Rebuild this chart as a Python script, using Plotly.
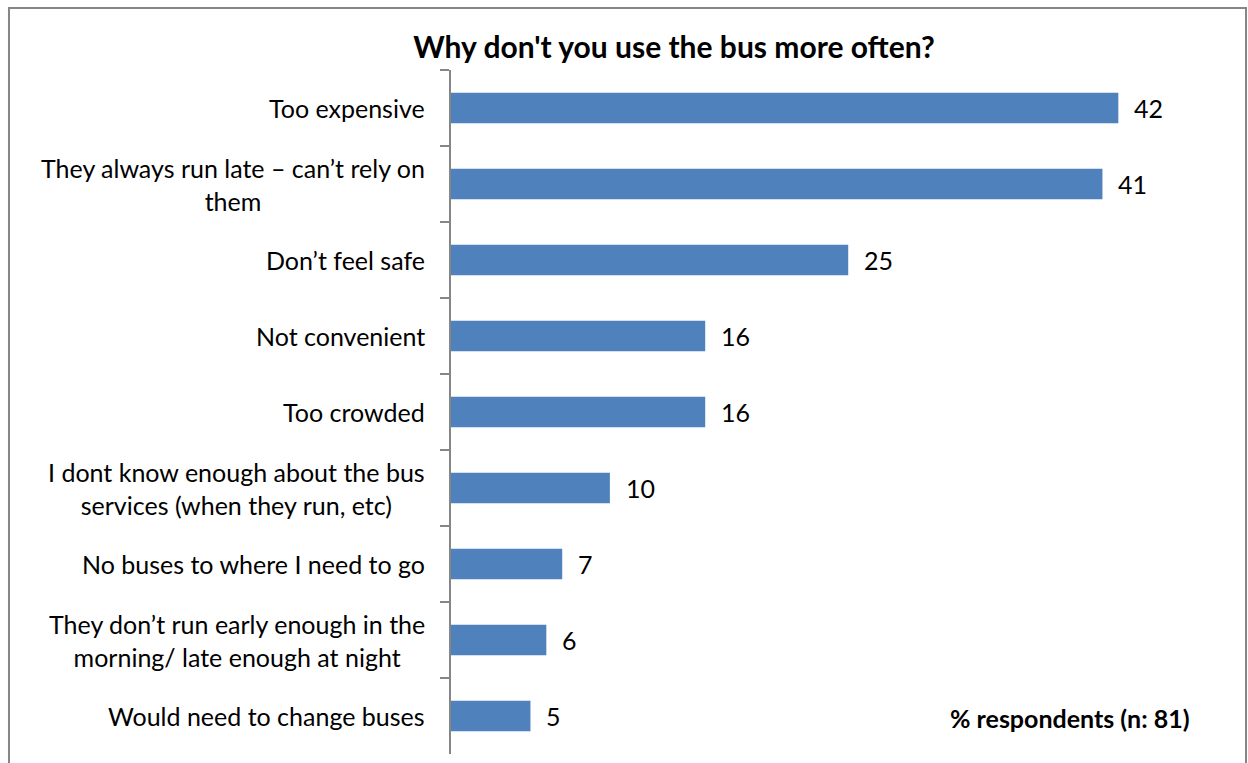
import plotly.graph_objects as go

# Survey responses, in display order (top to bottom)
categories = [
    "Too expensive",
    "They always run late \u2013 can\u2019t rely on<br>them",
    "Don\u2019t feel safe",
    "Not convenient",
    "Too crowded",
    "I dont know enough about the bus<br>services (when they run, etc)",
    "No buses to where I need to go",
    "They don\u2019t run early enough in the<br>morning/ late enough at night",
    "Would need to change buses",
]
values = [42, 41, 25, 16, 16, 10, 7, 6, 5]

title_text = "Why don't you use the bus more often?"
note_text = "% respondents (n: 81)"

FONT = "Lato, 'Liberation Sans', sans-serif"
BAR_COLOR = "#4F81BD"
AXIS_COLOR = "#868686"
LABEL_SIZE = 25

fig = go.Figure()
fig.add_trace(go.Bar(
    x=values,
    y=categories,
    orientation="h",
    marker=dict(color=BAR_COLOR, line=dict(width=0)),
    hoverinfo="x+y",
))

annotations = []
# category labels, centred per line like wrapped spreadsheet labels
for cat in categories:
    annotations.append(dict(
        x=0, xref="paper", y=cat, yref="y",
        text=cat, showarrow=False,
        xanchor="right", yanchor="middle", align="center",
        xshift=-24,
        font=dict(family=FONT, size=LABEL_SIZE, color="#000000"),
    ))
# value labels at the end of each bar
for cat, v in zip(categories, values):
    annotations.append(dict(
        x=v, xref="x", y=cat, yref="y",
        text=str(v), showarrow=False,
        xanchor="left", yanchor="middle", xshift=14,
        font=dict(family=FONT, size=LABEL_SIZE, color="#000000"),
    ))
# footnote
annotations.append(dict(
    x=1.036, xref="paper", y=0.053, yref="paper",
    text="<b>" + note_text + "</b>", showarrow=False,
    xanchor="right", yanchor="middle",
    font=dict(family=FONT, size=25, color="#000000"),
))

fig.update_layout(
    width=1248, height=763,
    margin=dict(l=451, r=82, t=70, b=9),
    paper_bgcolor="white", plot_bgcolor="white",
    showlegend=False,
    bargap=0.6,
    title=dict(
        text="<b>" + title_text + "</b>",
        x=674 / 1248, xanchor="center",
        y=1 - 47 / 763, yanchor="middle",
        font=dict(family=FONT, size=30, color="#000000"),
    ),
    xaxis=dict(visible=False, range=[0, 45], fixedrange=True),
    yaxis=dict(
        type="category",
        autorange="reversed",
        showticklabels=False,
        showline=True, linecolor=AXIS_COLOR, linewidth=1.5,
        ticks="outside", tickson="boundaries",
        ticklen=9, tickwidth=1.5, tickcolor=AXIS_COLOR,
        showgrid=False, zeroline=False, fixedrange=True,
    ),
    annotations=annotations,
    shapes=[dict(
        type="rect", xref="paper", yref="paper",
        x0=-0.6182, x1=1.1119, y0=-0.05, y1=1.0906,
        line=dict(color=AXIS_COLOR, width=2),
        fillcolor="rgba(0,0,0,0)", layer="below",
    )],
)

fig.write_html("out.html")
